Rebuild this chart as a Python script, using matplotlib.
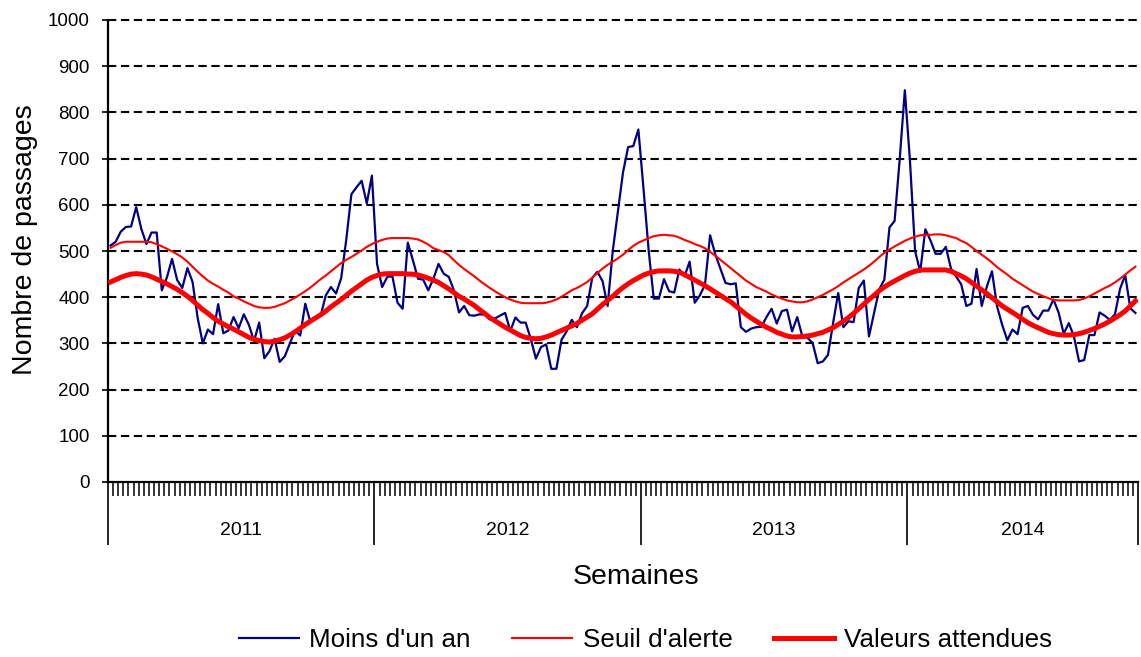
import numpy as np
import matplotlib
matplotlib.use("Agg")
import matplotlib.pyplot as plt

plt.rcParams['font.family'] = ['Liberation Sans', 'DejaVu Sans']

# years and number of weeks shown for each
years = ["2011", "2012", "2013", "2014"]
weeks_per_year = [52, 52, 52, 45]

# weekly counts, "Moins d'un an"
moins_un_an = [
    512, 520, 542, 552, 553, 595, 548, 515, 540, 540,
    415, 443, 483, 437, 420, 463, 433, 355, 300, 330,
    320, 385, 322, 328, 357, 333, 363, 340, 305, 345,
    268, 283, 310, 260, 272, 300, 328, 317, 386, 346,
    357, 360, 404, 422, 408, 441, 525, 623, 638, 652,
    603, 663, 472, 422, 444, 445, 388, 375, 518, 480,
    440, 438, 415, 440, 472, 451, 444, 415, 367, 381,
    361, 360, 363, 362, 352, 354, 360, 366, 327, 356,
    345, 345, 310, 267, 292, 298, 245, 245, 308, 326,
    351, 335, 365, 381, 442, 455, 435, 381, 500, 585,
    670, 725, 727, 763, 635, 502, 397, 397, 439, 413,
    410, 460, 445, 477, 388, 404, 427, 534, 493, 462,
    431, 428, 430, 335, 325, 332, 335, 336, 357, 375,
    343, 370, 373, 326, 357, 315, 312, 301, 257, 261,
    275, 344, 409, 335, 348, 346, 420, 436, 315, 366,
    417, 438, 551, 565, 699, 848, 695, 500, 455, 547,
    523, 494, 494, 509, 462, 445, 428, 381, 386, 461,
    381, 423, 456, 380, 340, 307, 330, 320, 377, 381,
    362, 352, 371, 371, 395, 367, 321, 344, 315, 261,
    264, 318, 318, 367, 360, 351, 363, 418, 448, 376,
    366,
]

# alert threshold
seuil_alerte = [
    507, 513, 518, 520, 520, 520, 520, 520, 519, 515,
    510, 505, 499, 493, 486, 477, 466, 455, 445, 436,
    429, 423, 416, 410, 402, 397, 391, 386, 381, 378,
    377, 377, 379, 383, 387, 393, 399, 406, 413, 421,
    430, 439, 447, 456, 465, 474, 481, 487, 494, 501,
    509, 515, 520, 524, 527, 528, 528, 528, 528, 527,
    525, 520, 514, 506, 502, 498, 491, 480, 470, 461,
    453, 445, 436, 428, 420, 413, 406, 400, 395, 391,
    388, 387, 387, 387, 387, 388, 391, 395, 401, 408,
    415, 420, 426, 433, 442, 452, 462, 470, 477, 484,
    492, 502, 511, 518, 523, 528, 532, 534, 535, 534,
    533, 529, 524, 520, 515, 511, 506, 498, 490, 481,
    472, 463, 454, 445, 436, 429, 422, 417, 412, 406,
    401, 397, 393, 391, 389, 389, 391, 395, 400, 405,
    411, 417, 424, 432, 439, 446, 453, 460, 468, 477,
    487, 496, 503, 510, 516, 522, 527, 531, 534, 535,
    535, 536, 536, 534, 531, 528, 522, 517, 509, 500,
    492, 484, 475, 465, 457, 449, 440, 433, 426, 419,
    412, 407, 402, 398, 394, 393, 393, 393, 393, 394,
    397, 402, 408, 414, 420, 425, 432, 440, 449, 458,
    466,
]

# expected values
valeurs_attendues = [
    433, 438, 443, 447, 450, 451, 450, 448, 444, 439,
    434, 429, 423, 417, 410, 402, 393, 383, 373, 365,
    356, 348, 342, 336, 331, 325, 319, 313, 309, 306,
    304, 303, 305, 308, 312, 318, 325, 333, 341, 348,
    355, 362, 370, 379, 387, 395, 404, 413, 421, 429,
    437, 443, 447, 450, 451, 451, 451, 451, 450, 450,
    448, 445, 441, 437, 432, 425, 418, 410, 402, 396,
    389, 382, 373, 365, 356, 349, 342, 335, 329, 323,
    317, 313, 311, 310, 311, 314, 318, 323, 328, 333,
    338, 343, 350, 357, 364, 374, 384, 393, 402, 412,
    421, 429, 436, 442, 448, 452, 455, 457, 457, 457,
    456, 454, 449, 443, 437, 431, 425, 418, 411, 404,
    397, 390, 381, 372, 363, 355, 348, 341, 335, 330,
    324, 320, 316, 314, 314, 315, 316, 318, 321, 324,
    329, 334, 341, 348, 356, 365, 375, 385, 395, 404,
    414, 422, 429, 435, 441, 447, 452, 456, 459, 459,
    459, 459, 459, 459, 456, 451, 446, 440, 432, 424,
    416, 408, 399, 390, 381, 374, 367, 360, 352, 345,
    339, 334, 329, 324, 321, 319, 318, 318, 319, 321,
    324, 328, 332, 337, 342, 348, 355, 362, 370, 381,
    392,
]

x = np.arange(len(moins_un_an))

fig = plt.figure(figsize=(11.41, 6.57), dpi=100)
ax = fig.add_axes([108 / 1141, 1 - 482 / 657, 1030 / 1141, 462 / 657])

# dashed horizontal grid
for v in range(100, 1001, 100):
    ax.axhline(v, color="black", lw=1.5, ls=(0, (4, 2.2)), zorder=1, clip_on=False)

ax.plot(x, moins_un_an, color="#000080", lw=1.6, label="Moins d'un an", zorder=3)
ax.plot(x, seuil_alerte, color="#ff0000", lw=1.5, label="Seuil d'alerte", zorder=4)
ax.plot(x, valeurs_attendues, color="#ff0000", lw=3.6, label="Valeurs attendues", zorder=5)

ax.set_xlim(-0.5, len(x) - 0.5)
ax.set_ylim(0, 1000)
ax.set_yticks(range(0, 1001, 100))
ax.tick_params(axis="y", labelsize=13.5, length=4, width=1.2, direction="out", pad=9)

for s in ["top", "right"]:
    ax.spines[s].set_visible(False)
ax.spines["left"].set_linewidth(1.6)
ax.spines["bottom"].set_linewidth(1.6)

# week ticks and year separators
bounds = np.concatenate([[0], np.cumsum(weeks_per_year)]) - 0.5
ax.set_xticks(bounds)
ax.set_xticklabels([])
ax.set_xticks(np.arange(-0.5, len(x), 1), minor=True)
ax.tick_params(axis="x", which="major", length=45, width=1.2, direction="out")
ax.tick_params(axis="x", which="minor", length=10, width=1.1, direction="out")

for i, yr in enumerate(years):
    ax.text((bounds[i] + bounds[i + 1]) / 2, -0.105, yr, transform=ax.get_xaxis_transform(),
            ha="center", va="center", fontsize=14)

fig.text(636 / 1141, 1 - 577 / 657, "Semaines", ha="center", va="center", fontsize=20.5)
fig.text(25 / 1141, 1 - 240 / 657, "Nombre de passages", ha="center", va="center",
         rotation=90, fontsize=20.5)

fig.legend(loc="center", bbox_to_anchor=(0.566, 0.026), ncol=3, frameon=False,
           fontsize=18.7, handlelength=2.3, handletextpad=0.4, columnspacing=1.6)

fig.savefig("out.png", dpi=100)
